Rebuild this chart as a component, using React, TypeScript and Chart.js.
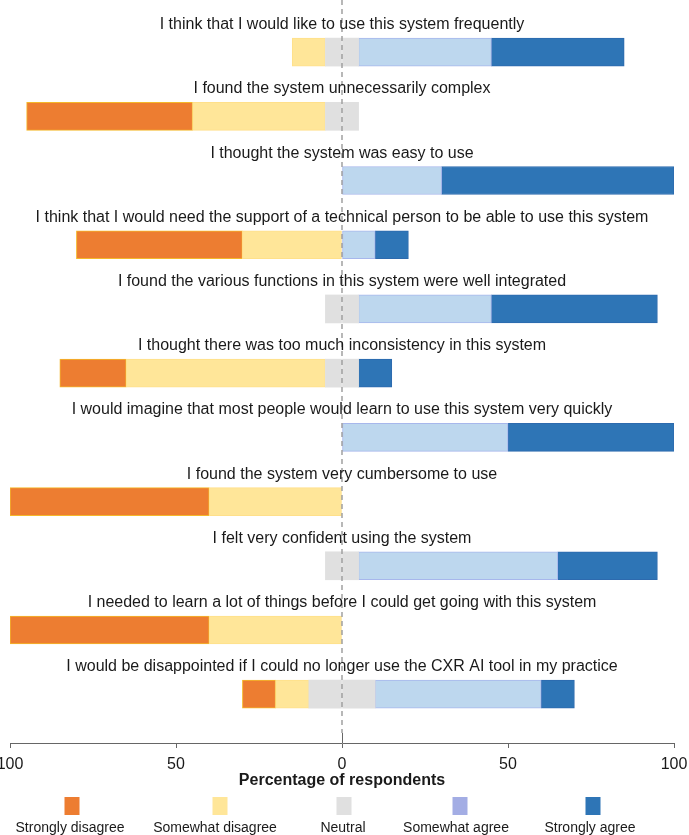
import React, { useEffect, useRef } from "react";
import { Chart, registerables } from "chart.js";

Chart.register(...registerables);

const categories = [
  "I think that I would like to use this system frequently",
  "I found the system unnecessarily complex",
  "I thought the system was easy to use",
  "I think that I would need the support of a technical person to be able to use this system",
  "I found the various functions in this system were well integrated",
  "I thought there was too much inconsistency in this system",
  "I would imagine that most people would learn to use this system very quickly",
  "I found the system very cumbersome to use",
  "I felt very confident using the system",
  "I needed to learn a lot of things before I could get going with this system",
  "I would be disappointed if I could no longer use the CXR AI tool in my practice",
];

const stronglyDisagree = [0, 50, 0, 50, 0, 20, 0, 60, 0, 60, 10];
const somewhatDisagree = [10, 40, 0, 30, 0, 60, 0, 40, 0, 40, 10];
const neutral = [10, 10, 0, 0, 10, 10, 0, 0, 10, 0, 20];
const somewhatAgree = [40, 0, 30, 10, 40, 0, 50, 0, 60, 0, 50];
const stronglyAgree = [40, 0, 70, 10, 50, 10, 50, 0, 30, 0, 10];

const responseLabels = [
  "Strongly disagree",
  "Somewhat disagree",
  "Neutral",
  "Somewhat agree",
  "Strongly agree",
];
const xTickMin = -100;
const xTickMax = 100;
const xTickStep = 50;

const FONT = '"Liberation Sans", Arial, Helvetica, sans-serif';

const legendColors = ["#ED7D31", "#FFE699", "#E0E0E0", "#A3ADE4", "#2E75B6"];

function toPoints(arr: number[], factor: number) {
  return arr.map((v, i) => ({ x: v === 0 ? null : v * factor, y: i }));
}

const overlayPlugin = {
  id: "overlay",
  afterDatasetsDraw(chart: any) {
    const { ctx, chartArea, scales } = chart;
    const xs = scales.x;
    const ys = scales.y;
    const x0 = xs.getPixelForValue(0);
    ctx.save();
    // dashed zero line
    ctx.strokeStyle = "#9a9a9a";
    ctx.lineWidth = 1.4;
    ctx.setLineDash([5, 4]);
    ctx.beginPath();
    ctx.moveTo(x0, 0);
    ctx.lineTo(x0, chartArea.bottom - 10);
    ctx.stroke();
    ctx.setLineDash([]);
    ctx.strokeStyle = "#666";
    ctx.lineWidth = 1;
    ctx.beginPath();
    ctx.moveTo(Math.round(x0) + 0.5, chartArea.bottom - 10);
    ctx.lineTo(Math.round(x0) + 0.5, chartArea.bottom);
    ctx.stroke();
    // category labels above the bars
    ctx.fillStyle = "#1a1a1a";
    ctx.font = "16px " + FONT;
    ctx.textAlign = "center";
    ctx.textBaseline = "alphabetic";
    const cx = (chartArea.left + chartArea.right) / 2;
    categories.forEach((c, i) => {
      ctx.fillText(c, cx, ys.getPixelForValue(i) - 23);
    });
    ctx.restore();
  },
  afterDraw(chart: any) {
    const { ctx } = chart;
    const boxX = [72, 220, 344, 460, 593];
    const textX = [70, 215, 343, 456, 590];
    ctx.save();
    responseLabels.forEach((lab, i) => {
      ctx.fillStyle = legendColors[i];
      ctx.fillRect(boxX[i] - 7.5, 797, 15, 18);
      ctx.fillStyle = "#1a1a1a";
      ctx.font = "14px " + FONT;
      ctx.textAlign = "center";
      ctx.textBaseline = "alphabetic";
      ctx.fillText(lab, textX[i], 832);
    });
    ctx.restore();
  },
};

export default function App() {
  const ref = useRef<HTMLCanvasElement | null>(null);

  useEffect(() => {
    if (!ref.current) return;
    const halfNeutral = 0.5;
    const common = { barThickness: 28, borderSkipped: false as const };
    const chart = new Chart(ref.current, {
      type: "bar",
      data: {
        datasets: [
          {
            label: "Neutral",
            data: toPoints(neutral, -halfNeutral) as any,
            backgroundColor: "#E0E0E0",
            borderWidth: 0,
            ...common,
          },
          {
            label: "Neutral ",
            data: toPoints(neutral, halfNeutral) as any,
            backgroundColor: "#E0E0E0",
            borderWidth: 0,
            ...common,
          },
          {
            label: "Somewhat disagree",
            data: toPoints(somewhatDisagree, -1) as any,
            backgroundColor: "#FFE699",
            borderColor: "#FFE08A",
            borderWidth: 1,
            ...common,
          },
          {
            label: "Somewhat agree",
            data: toPoints(somewhatAgree, 1) as any,
            backgroundColor: "#BDD7EE",
            borderColor: "#A7B7EC",
            borderWidth: 1,
            ...common,
          },
          {
            label: "Strongly disagree",
            data: toPoints(stronglyDisagree, -1) as any,
            backgroundColor: "#ED7D31",
            borderColor: "#F5B82A",
            borderWidth: 1,
            ...common,
          },
          {
            label: "Strongly agree",
            data: toPoints(stronglyAgree, 1) as any,
            backgroundColor: "#2E75B6",
            borderColor: "#2D6AAE",
            borderWidth: 1,
            ...common,
          },
        ],
      },
      options: {
        indexAxis: "y",
        animation: false,
        responsive: true,
        maintainAspectRatio: false,
        layout: { padding: { top: 20, left: 10, right: 15, bottom: 45 } },
        plugins: {
          legend: { display: false },
          tooltip: { enabled: false },
        },
        scales: {
          x: {
            type: "linear",
            stacked: true,
            min: xTickMin,
            max: xTickMax,
            afterFit: (s: any) => {
              s.paddingLeft = 0;
              s.paddingRight = 0;
              s.height = 47;
            },
            ticks: {
              stepSize: xTickStep,
              color: "#1a1a1a",
              padding: 7,
              font: { size: 16, family: FONT },
              callback: (v: any) => String(Math.abs(Number(v))),
              maxRotation: 0,
            },
            grid: {
              drawOnChartArea: false,
              drawTicks: true,
              tickLength: 5,
              color: "#666",
            },
            border: { display: true, color: "#666", width: 1 },
            title: {
              display: true,
              text: "Percentage of respondents",
              color: "#1a1a1a",
              font: { size: 16, weight: "bold", family: FONT },
              padding: { top: 0, bottom: 0 },
            },
          },
          y: {
            type: "linear",
            reverse: true,
            stacked: true,
            offset: false,
            grid: { offset: false },
            min: -0.5,
            max: 10.76,
            display: false,
          },
        },
      } as any,
      plugins: [overlayPlugin],
    });
    return () => chart.destroy();
  }, []);

  return (
    <div style={{ position: "absolute", left: 0, top: 0, width: 689, height: 835 }}>
      <canvas ref={ref} />
    </div>
  );
}
